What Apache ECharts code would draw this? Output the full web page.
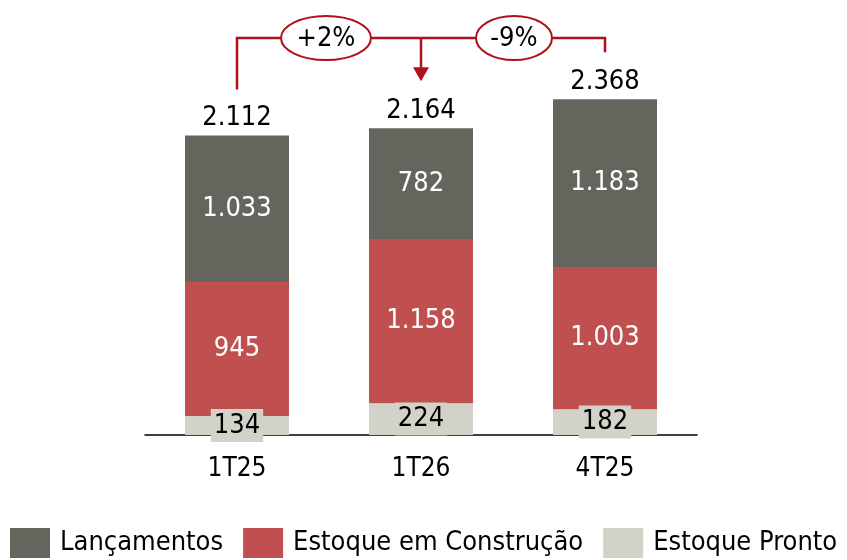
<!DOCTYPE html>
<html lang="pt">
<head>
    <meta charset="utf-8">
    <title>Estoque</title>
    <script src="https://cdn.jsdelivr.net/npm/echarts@6/dist/echarts.min.js"></script>
    <style>
        html, body { margin: 0; padding: 0; background: #fff; }
        #main { width: 847px; height: 560px; }
    </style>
</head>
<body>
    <div id="main"></div>
    <script type="text/javascript">
    // dados
    var categorias = ['1T25', '1T26', '4T25'];
    var pronto = [134, 224, 182];
    var construcao = [945, 1158, 1003];
    var lancamentos = [1033, 782, 1183];
    var totais = [2112, 2164, 2368];
    var variacoes = ['+2%', '-9%'];

    var FONTE = '"DejaVu Sans Condensed", "DejaVu Sans", sans-serif';
    var VERMELHO = '#B1101A';

    function fmt(v) {
        return String(v).replace(/\B(?=(\d{3})+(?!\d))/g, '.');
    }

    var myChart = echarts.init(document.getElementById('main'));

    myChart.setOption({
        animation: false,
        textStyle: { fontFamily: FONTE },
        grid: { left: 145, right: 150, top: 38, bottom: 125 },
        legend: {
            data: ['Lançamentos', 'Estoque em Construção', 'Estoque Pronto'],
            left: 10,
            right: 0,
            bottom: 2,
            padding: 0,
            itemWidth: 40,
            itemHeight: 30,
            itemGap: 20,
            icon: 'rect',
            textStyle: { fontSize: 27, color: '#000', fontFamily: FONTE, padding: [0, 0, 0, 5] }
        },
        xAxis: {
            type: 'category',
            data: categorias,
            axisLine: { lineStyle: { color: '#000', width: 1.5 } },
            axisTick: { show: false },
            axisLabel: { fontSize: 26, color: '#000', margin: 21, fontFamily: FONTE }
        },
        yAxis: {
            type: 'value',
            min: 0,
            max: 2800,
            show: false,
            splitLine: { show: false }
        },
        series: [{
            name: 'Estoque Pronto',
            type: 'bar',
            stack: 'total',
            barWidth: 104,
            data: pronto,
            itemStyle: { color: '#D2D2C9' },
            label: {
                show: true,
                position: 'inside',
                color: '#000',
                fontSize: 27,
                lineHeight: 29,
                fontFamily: FONTE,
                backgroundColor: '#D2D2C9',
                padding: [2, 3, 2, 3],
                formatter: function (p) { return fmt(p.value); }
            }
        }, {
            name: 'Estoque em Construção',
            type: 'bar',
            stack: 'total',
            data: construcao,
            itemStyle: { color: '#C0504F' },
            label: {
                show: true,
                position: 'inside',
                color: '#fff',
                fontSize: 27,
                fontFamily: FONTE,
                formatter: function (p) { return fmt(p.value); }
            }
        }, {
            name: 'Lançamentos',
            type: 'bar',
            stack: 'total',
            data: lancamentos,
            itemStyle: { color: '#66655D' },
            label: {
                show: true,
                position: 'inside',
                color: '#fff',
                fontSize: 27,
                fontFamily: FONTE,
                formatter: function (p) { return fmt(p.value); }
            }
        }, {
            // totais acima das barras
            name: 'Total',
            type: 'custom',
            silent: true,
            data: totais.map(function (v, i) { return [i, v]; }),
            renderItem: function (params, api) {
                var p = api.coord([api.value(0), api.value(1)]);
                return {
                    type: 'text',
                    x: p[0],
                    y: p[1] - 4,
                    style: {
                        text: fmt(api.value(1)),
                        fontSize: 27,
                        fontFamily: FONTE,
                        fill: '#000',
                        align: 'center',
                        verticalAlign: 'bottom'
                    }
                };
            }
        }]
    });

    // chaves de variação, posicionadas a partir dos eixos
    var yChave = 38;
    var px = categorias.map(function (c, i) {
        return myChart.convertToPixel({ seriesIndex: 0 }, [i, totais[i]]);
    });
    var xm = [(px[0][0] + px[1][0]) / 2 - 3, (px[1][0] + px[2][0]) / 2 + 1];
    var linha = { stroke: VERMELHO, lineWidth: 2.5 };
    var texto = { fontSize: 27, fontFamily: FONTE, fill: '#000', align: 'center', verticalAlign: 'middle' };

    myChart.setOption({
        graphic: [
            { type: 'polyline', shape: { points: [[px[0][0], px[0][1] - 46], [px[0][0], yChave], [px[2][0], yChave], [px[2][0], px[2][1] - 47]] }, style: linha, z: 10 },
            { type: 'line', shape: { x1: px[1][0], y1: yChave, x2: px[1][0], y2: px[1][1] - 60 }, style: linha, z: 10 },
            { type: 'polygon', shape: { points: [[px[1][0] - 8, px[1][1] - 61], [px[1][0] + 8, px[1][1] - 61], [px[1][0], px[1][1] - 47]] }, style: { fill: VERMELHO }, z: 10 },
            { type: 'ellipse', shape: { cx: xm[0], cy: yChave, rx: 45, ry: 22 }, style: { fill: '#fff', stroke: VERMELHO, lineWidth: 2 }, z: 11 },
            { type: 'ellipse', shape: { cx: xm[1], cy: yChave, rx: 38, ry: 22 }, style: { fill: '#fff', stroke: VERMELHO, lineWidth: 2 }, z: 11 },
            { type: 'text', x: xm[0], y: yChave + 1, style: Object.assign({ text: variacoes[0] }, texto), z: 12 },
            { type: 'text', x: xm[1], y: yChave + 1, style: Object.assign({ text: variacoes[1] }, texto), z: 12 }
        ]
    });
    </script>
</body>
</html>
